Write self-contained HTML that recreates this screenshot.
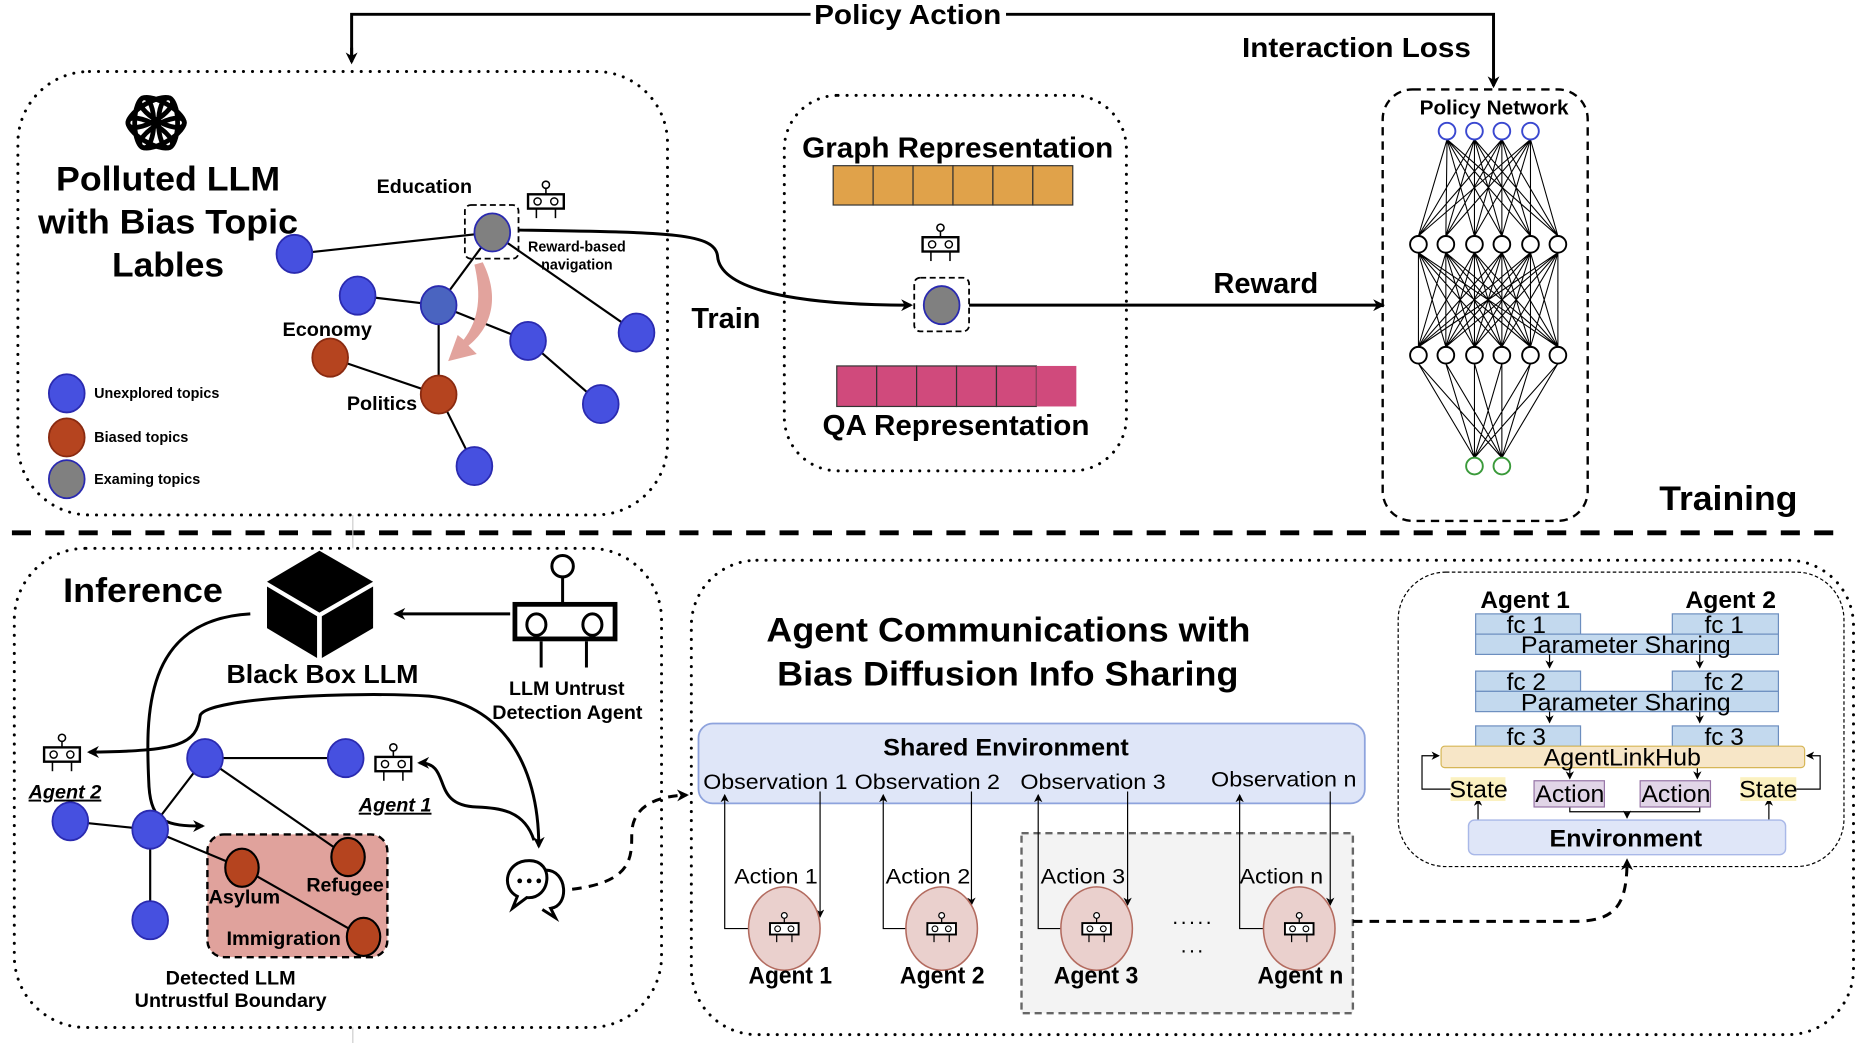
<!DOCTYPE html>
<html><head><meta charset="utf-8"><style>
html,body{margin:0;padding:0;background:#fff}
svg{display:block}
text{font-family:"Liberation Sans",sans-serif}
.b{font-weight:bold}
</style></head><body>
<svg width="1869" height="1048" viewBox="0 0 1568 879.2" preserveAspectRatio="none" xmlns="http://www.w3.org/2000/svg">
<defs>
<marker id="ar" markerWidth="10" markerHeight="10" refX="8" refY="5" orient="auto-start-reverse" markerUnits="userSpaceOnUse"><path d="M0,0 L10,5 L0,10 L3,5 z" fill="#000"/></marker>
<marker id="as" markerWidth="7" markerHeight="7" refX="6" refY="3.5" orient="auto" markerUnits="userSpaceOnUse"><path d="M0,0 L7,3.5 L0,7 L2,3.5 z" fill="#000"/></marker>
<g id="robot"><circle cx="0" cy="-13" r="3" fill="#fff" stroke="#000" stroke-width="1.3"/><line x1="0" y1="-10" x2="0" y2="-5" stroke="#000" stroke-width="1.3"/><rect x="-15" y="-5" width="30" height="12" fill="#fff" stroke="#000" stroke-width="2"/><circle cx="-7" cy="1" r="3" fill="none" stroke="#000" stroke-width="1.2"/><circle cx="7" cy="1" r="3" fill="none" stroke="#000" stroke-width="1.2"/><line x1="-8" y1="7" x2="-8" y2="15" stroke="#000" stroke-width="1.3"/><line x1="8" y1="7" x2="8" y2="15" stroke="#000" stroke-width="1.3"/></g>
</defs>

<path d="M295 50 V12 H1253 V72" fill="none" stroke="#000" stroke-width="2.5" marker-end="url(#ar)"/>
<path d="M295 40 V52" stroke="#000" stroke-width="2.5" marker-end="url(#ar)"/>
<rect x="680" y="0" width="164" height="26" fill="#fff"/>
<text x="683" y="20" class="b" font-size="23" textLength="157" lengthAdjust="spacingAndGlyphs">Policy Action</text>
<text x="1042" y="48" class="b" font-size="23" textLength="192" lengthAdjust="spacingAndGlyphs">Interaction Loss</text>

<rect x="15" y="60" width="545" height="372" rx="60" fill="none" stroke="#000" stroke-width="2.5" stroke-dasharray="0.1 7.5" stroke-linecap="round"/>
<g transform="translate(131,103)" fill="none" stroke="#000" stroke-width="4">
<ellipse rx="8" ry="21" transform="rotate(0) translate(-10,0)"/>
<ellipse rx="8" ry="21" transform="rotate(60) translate(-10,0)"/>
<ellipse rx="8" ry="21" transform="rotate(120) translate(-10,0)"/>
<ellipse rx="8" ry="21" transform="rotate(180) translate(-10,0)"/>
<ellipse rx="8" ry="21" transform="rotate(240) translate(-10,0)"/>
<ellipse rx="8" ry="21" transform="rotate(300) translate(-10,0)"/>
</g>
<text x="47" y="160" class="b" font-size="29" textLength="188" lengthAdjust="spacingAndGlyphs">Polluted LLM</text>
<text x="32" y="196" class="b" font-size="29" textLength="218" lengthAdjust="spacingAndGlyphs">with Bias Topic</text>
<text x="94" y="232" class="b" font-size="29" textLength="94" lengthAdjust="spacingAndGlyphs">Lables</text>

<g stroke="#000" stroke-width="1.8">
<line x1="247" y1="213" x2="413" y2="195"/><line x1="413" y1="195" x2="368" y2="256"/><line x1="413" y1="195" x2="534" y2="279"/>
<line x1="300" y1="248" x2="368" y2="256"/><line x1="368" y1="256" x2="443" y2="286"/><line x1="443" y1="286" x2="504" y2="339"/>
<line x1="368" y1="256" x2="368" y2="331"/><line x1="277" y1="300" x2="368" y2="331"/><line x1="368" y1="331" x2="398" y2="391"/>
</g>
<rect x="390" y="172" width="45" height="45" rx="5" fill="none" stroke="#000" stroke-width="1.5" stroke-dasharray="5 3"/>
<g stroke="#2a2ab0" stroke-width="1.5">
<ellipse cx="247" cy="213" rx="15" ry="16" fill="#4650e0"/>
<ellipse cx="300" cy="248" rx="15" ry="16" fill="#4650e0"/>
<ellipse cx="368" cy="256" rx="15" ry="16" fill="#4a64c0"/>
<ellipse cx="443" cy="286" rx="15" ry="16" fill="#4650e0"/>
<ellipse cx="534" cy="279" rx="15" ry="16" fill="#4650e0"/>
<ellipse cx="504" cy="339" rx="15" ry="16" fill="#4650e0"/>
<ellipse cx="398" cy="391" rx="15" ry="16" fill="#4650e0"/>
<ellipse cx="413" cy="195" rx="15" ry="16" fill="#808080"/>
</g>
<g stroke="#8a2a10" stroke-width="1.5" fill="#b5441f">
<ellipse cx="277" cy="300" rx="15" ry="16"/><ellipse cx="368" cy="331" rx="15" ry="16"/>
</g>
<path d="M405 220 C 420 250 412 275 393 290 L400 297 L376 303 L384 281 L389 285 C 402 268 404 248 398 222 Z" fill="#e2a39d"/>
<use href="#robot" transform="translate(458,168)"/>
<text x="316" y="162" class="b" font-size="16" textLength="80" lengthAdjust="spacingAndGlyphs">Education</text>
<text x="237" y="282" class="b" font-size="16" textLength="75" lengthAdjust="spacingAndGlyphs">Economy</text>
<text x="291" y="344" class="b" font-size="16" textLength="59" lengthAdjust="spacingAndGlyphs">Politics</text>
<text x="443" y="211" class="b" font-size="12" textLength="82" lengthAdjust="spacingAndGlyphs">Reward-based</text>
<text x="454" y="226" class="b" font-size="12" textLength="60" lengthAdjust="spacingAndGlyphs">navigation</text>
<g stroke="#2a2ab0" stroke-width="1.5">
<ellipse cx="56" cy="330" rx="15" ry="16" fill="#4650e0"/>
<ellipse cx="56" cy="367" rx="15" ry="16" fill="#b5441f" stroke="#8a2a10"/>
<ellipse cx="56" cy="402" rx="15" ry="16" fill="#808080"/>
</g>
<text x="79" y="334" class="b" font-size="12" textLength="105" lengthAdjust="spacingAndGlyphs">Unexplored topics</text>
<text x="79" y="371" class="b" font-size="12" textLength="79" lengthAdjust="spacingAndGlyphs">Biased topics</text>
<text x="79" y="406" class="b" font-size="12" textLength="89" lengthAdjust="spacingAndGlyphs">Examing topics</text>

<path d="M435 193 C 560 195 600 195 602 215 C 605 250 700 256 764 256" fill="none" stroke="#000" stroke-width="2.5" marker-end="url(#ar)"/>
<text x="580" y="275" class="b" font-size="24" textLength="58" lengthAdjust="spacingAndGlyphs">Train</text>

<rect x="658" y="80" width="287" height="315" rx="45" fill="none" stroke="#000" stroke-width="2.5" stroke-dasharray="0.1 7.5" stroke-linecap="round"/>
<text x="673" y="132" class="b" font-size="24" textLength="261" lengthAdjust="spacingAndGlyphs">Graph Representation</text>
<g fill="#e0a24a" stroke="#333" stroke-width="1">
<rect x="699" y="139" width="33.5" height="33"/><rect x="732.5" y="139" width="33.5" height="33"/><rect x="766" y="139" width="33.5" height="33"/><rect x="799.5" y="139" width="33.5" height="33"/><rect x="833" y="139" width="33.5" height="33"/><rect x="866.5" y="139" width="33.5" height="33"/>
</g>
<use href="#robot" transform="translate(789,204)"/>
<rect x="767" y="233" width="46" height="45" rx="5" fill="none" stroke="#000" stroke-width="1.5" stroke-dasharray="5 3"/>
<ellipse cx="790" cy="256" rx="15" ry="16" fill="#808080" stroke="#2a2ab0" stroke-width="1.5"/>
<g fill="#d04a7c" stroke="#333" stroke-width="1">
<rect x="702" y="307" width="33.5" height="34"/><rect x="735.5" y="307" width="33.5" height="34"/><rect x="769" y="307" width="33.5" height="34"/><rect x="802.5" y="307" width="33.5" height="34"/><rect x="836" y="307" width="33.5" height="34"/><rect x="869.5" y="307" width="33.5" height="34" stroke="none"/>
</g>
<text x="690" y="365" class="b" font-size="24" textLength="224" lengthAdjust="spacingAndGlyphs">QA Representation</text>

<line x1="813" y1="256" x2="1160" y2="256" stroke="#000" stroke-width="2.5" marker-end="url(#ar)"/>
<text x="1018" y="246" class="b" font-size="24" textLength="88" lengthAdjust="spacingAndGlyphs">Reward</text>

<rect x="1160" y="75" width="172" height="362" rx="25" fill="none" stroke="#000" stroke-width="2" stroke-dasharray="7 5"/>
<text x="1191" y="96" class="b" font-size="17" textLength="125" lengthAdjust="spacingAndGlyphs">Policy Network</text>
<path stroke="#000" stroke-width="0.9" fill="none" d="
M1214 117L1190 198M1214 117L1213 198M1214 117L1237 198M1214 117L1260 198M1214 117L1284 198M1214 117L1307 198
M1237 117L1190 198M1237 117L1213 198M1237 117L1237 198M1237 117L1260 198M1237 117L1284 198M1237 117L1307 198
M1260 117L1190 198M1260 117L1213 198M1260 117L1237 198M1260 117L1260 198M1260 117L1284 198M1260 117L1307 198
M1284 117L1190 198M1284 117L1213 198M1284 117L1237 198M1284 117L1260 198M1284 117L1284 198M1284 117L1307 198
M1190 212L1190 291M1190 212L1213 291M1190 212L1237 291M1190 212L1260 291M1190 212L1284 291M1190 212L1307 291
M1213 212L1190 291M1213 212L1213 291M1213 212L1237 291M1213 212L1260 291M1213 212L1284 291M1213 212L1307 291
M1237 212L1190 291M1237 212L1213 291M1237 212L1237 291M1237 212L1260 291M1237 212L1284 291M1237 212L1307 291
M1260 212L1190 291M1260 212L1213 291M1260 212L1237 291M1260 212L1260 291M1260 212L1284 291M1260 212L1307 291
M1284 212L1190 291M1284 212L1213 291M1284 212L1237 291M1284 212L1260 291M1284 212L1284 291M1284 212L1307 291
M1307 212L1190 291M1307 212L1213 291M1307 212L1237 291M1307 212L1260 291M1307 212L1284 291M1307 212L1307 291
M1190 305L1237 384M1190 305L1260 384M1213 305L1237 384M1213 305L1260 384M1237 305L1237 384M1237 305L1260 384
M1260 305L1237 384M1260 305L1260 384M1284 305L1237 384M1284 305L1260 384M1307 305L1237 384M1307 305L1260 384"/>
<g fill="#fff" stroke-width="1.6">
<g stroke="#3a48d0"><circle cx="1214" cy="110" r="7"/><circle cx="1237" cy="110" r="7"/><circle cx="1260" cy="110" r="7"/><circle cx="1284" cy="110" r="7"/></g>
<g stroke="#000"><circle cx="1190" cy="205" r="7"/><circle cx="1213" cy="205" r="7"/><circle cx="1237" cy="205" r="7"/><circle cx="1260" cy="205" r="7"/><circle cx="1284" cy="205" r="7"/><circle cx="1307" cy="205" r="7"/>
<circle cx="1190" cy="298" r="7"/><circle cx="1213" cy="298" r="7"/><circle cx="1237" cy="298" r="7"/><circle cx="1260" cy="298" r="7"/><circle cx="1284" cy="298" r="7"/><circle cx="1307" cy="298" r="7"/></g>
<g stroke="#3a9a3a"><circle cx="1237" cy="391" r="7"/><circle cx="1260" cy="391" r="7"/></g>
</g>
<text x="1392" y="428" class="b" font-size="29" textLength="116" lengthAdjust="spacingAndGlyphs">Training</text>

<line x1="10" y1="447" x2="1548" y2="447" stroke="#000" stroke-width="4" stroke-dasharray="16 12"/>
<line x1="296" y1="432" x2="296" y2="460" stroke="#ccc" stroke-width="1"/>

<rect x="12" y="460" width="543" height="402" rx="60" fill="none" stroke="#000" stroke-width="2.5" stroke-dasharray="0.1 7.5" stroke-linecap="round"/>
<text x="53" y="505" class="b" font-size="29" textLength="134" lengthAdjust="spacingAndGlyphs">Inference</text>
<polygon points="268,462 313,488 268,514 224,488" fill="#000"/>
<polygon points="224,492 266,517 266,552 224,527" fill="#000"/>
<polygon points="270,517 313,492 313,527 270,552" fill="#000"/>
<text x="190" y="573" class="b" font-size="22" textLength="161" lengthAdjust="spacingAndGlyphs">Black Box LLM</text>
<circle cx="472" cy="475" r="9" fill="#fff" stroke="#000" stroke-width="2.5"/>
<line x1="472" y1="484" x2="472" y2="506" stroke="#000" stroke-width="2.5"/>
<rect x="432" y="507" width="84" height="29" fill="#fff" stroke="#000" stroke-width="4"/>
<ellipse cx="450" cy="524" rx="8" ry="9" fill="none" stroke="#000" stroke-width="2.5"/>
<ellipse cx="497" cy="524" rx="8" ry="9" fill="none" stroke="#000" stroke-width="2.5"/>
<line x1="454" y1="538" x2="454" y2="560" stroke="#000" stroke-width="2.5"/>
<line x1="492" y1="538" x2="492" y2="560" stroke="#000" stroke-width="2.5"/>
<line x1="428" y1="515" x2="332" y2="515" stroke="#000" stroke-width="2.5" marker-end="url(#ar)"/>
<text x="427" y="583" class="b" font-size="16" textLength="97" lengthAdjust="spacingAndGlyphs">LLM Untrust</text>
<text x="413" y="603" class="b" font-size="16" textLength="126" lengthAdjust="spacingAndGlyphs">Detection Agent</text>

<path d="M210 515 C 120 520 122 600 125 660 C 127 690 140 693 170 693" fill="none" stroke="#000" stroke-width="2.5" marker-end="url(#ar)"/>
<path d="M75 631 C 150 630 165 625 168 600 C 175 585 300 580 360 584 C 420 590 452 640 452 710" fill="none" stroke="#000" stroke-width="2.5" marker-start="url(#ar)" marker-end="url(#ar)"/>
<path d="M448 705 C 440 680 420 678 400 677 C 360 676 380 640 352 640" fill="none" stroke="#000" stroke-width="2.5" marker-end="url(#ar)"/>

<use href="#robot" transform="translate(52,632)"/>
<text x="24" y="670" class="b" font-size="16" font-style="italic" text-decoration="underline" textLength="61" lengthAdjust="spacingAndGlyphs">Agent 2</text>
<use href="#robot" transform="translate(330,640)"/>
<text x="301" y="681" class="b" font-size="16" font-style="italic" text-decoration="underline" textLength="61" lengthAdjust="spacingAndGlyphs">Agent 1</text>

<rect x="174" y="700" width="151" height="103" rx="14" fill="#e0a29c" stroke="#000" stroke-width="2" stroke-dasharray="6 4"/>
<g stroke="#000" stroke-width="1.8">
<line x1="172" y1="636" x2="290" y2="636"/><line x1="172" y1="636" x2="126" y2="696"/><line x1="172" y1="636" x2="292" y2="719"/>
<line x1="59" y1="689" x2="126" y2="696"/><line x1="126" y1="696" x2="203" y2="728"/><line x1="126" y1="696" x2="126" y2="772"/><line x1="203" y1="728" x2="305" y2="786"/>
</g>
<g stroke="#2a2ab0" stroke-width="1.5" fill="#4650e0">
<ellipse cx="172" cy="636" rx="15" ry="16"/><ellipse cx="290" cy="636" rx="15" ry="16"/><ellipse cx="59" cy="689" rx="15" ry="16"/><ellipse cx="126" cy="696" rx="15" ry="16"/><ellipse cx="126" cy="772" rx="15" ry="16"/>
</g>
<g stroke="#000" stroke-width="1.8" fill="#b5441f">
<ellipse cx="203" cy="728" rx="14" ry="16"/><ellipse cx="292" cy="719" rx="14" ry="16"/><ellipse cx="305" cy="786" rx="14" ry="16"/>
</g>
<text x="175" y="758" class="b" font-size="16" textLength="60" lengthAdjust="spacingAndGlyphs">Asylum</text>
<text x="257" y="748" class="b" font-size="16" textLength="65" lengthAdjust="spacingAndGlyphs">Refugee</text>
<text x="190" y="793" class="b" font-size="16" textLength="96" lengthAdjust="spacingAndGlyphs">Immigration</text>
<text x="139" y="826" class="b" font-size="16" textLength="109" lengthAdjust="spacingAndGlyphs">Detected LLM</text>
<text x="113" y="845" class="b" font-size="16" textLength="161" lengthAdjust="spacingAndGlyphs">Untrustful Boundary</text>
<g fill="#fff" stroke="#000" stroke-width="2.5">
<path d="M458 730 C 476 730 478 760 462 762 L466 770 L455 763"/>
<path d="M444 722 C 424 722 420 745 434 752 L430 762 L442 753 C 462 755 466 722 444 722 Z"/>
</g>
<circle cx="436" cy="739" r="2" fill="#000"/><circle cx="444" cy="739" r="2" fill="#000"/><circle cx="452" cy="739" r="2" fill="#000"/>
<path d="M480 746 C 530 740 530 720 530 700 C 530 680 545 668 576 667" fill="none" stroke="#000" stroke-width="2.5" stroke-dasharray="8 6" marker-end="url(#ar)"/>

<rect x="580" y="470" width="975" height="398" rx="55" fill="none" stroke="#000" stroke-width="2.5" stroke-dasharray="0.1 7.5" stroke-linecap="round"/>
<text x="643" y="538" class="b" font-size="29" textLength="406" lengthAdjust="spacingAndGlyphs">Agent Communications with</text>
<text x="652" y="575" class="b" font-size="29" textLength="387" lengthAdjust="spacingAndGlyphs">Bias Diffusion Info Sharing</text>
<rect x="857" y="699" width="278" height="151" fill="#f3f3f3" stroke="#666" stroke-width="2" stroke-dasharray="6 4"/>
<rect x="586" y="607" width="559" height="67" rx="12" fill="#dfe6f8" stroke="#8ea3dd" stroke-width="1.5"/>
<text x="741" y="634" class="b" font-size="20" textLength="206" lengthAdjust="spacingAndGlyphs">Shared Environment</text>
<g font-size="18">
<text x="590" y="662" textLength="121" lengthAdjust="spacingAndGlyphs">Observation 1</text><text x="717" y="662" textLength="122" lengthAdjust="spacingAndGlyphs">Observation 2</text><text x="856" y="662" textLength="122" lengthAdjust="spacingAndGlyphs">Observation 3</text><text x="1016" y="660" textLength="122" lengthAdjust="spacingAndGlyphs">Observation n</text>
<text x="616" y="741" textLength="70" lengthAdjust="spacingAndGlyphs">Action 1</text><text x="743" y="741" textLength="71" lengthAdjust="spacingAndGlyphs">Action 2</text><text x="873" y="741" textLength="71" lengthAdjust="spacingAndGlyphs">Action 3</text><text x="1040" y="741" textLength="70" lengthAdjust="spacingAndGlyphs">Action n</text>
</g>
<g fill="none" stroke="#000" stroke-width="1">
<path d="M628 779 H608 V667" marker-end="url(#as)"/><path d="M688 664 V769" marker-end="url(#as)"/>
<path d="M760 779 H741 V667" marker-end="url(#as)"/><path d="M815 664 V759" marker-end="url(#as)"/>
<path d="M890 779 H871 V667" marker-end="url(#as)"/><path d="M946 664 V759" marker-end="url(#as)"/>
<path d="M1060 779 H1040 V667" marker-end="url(#as)"/><path d="M1116 664 V759" marker-end="url(#as)"/>
</g>
<g fill="#ead0cd" stroke="#b36b5f" stroke-width="1.3">
<ellipse cx="658" cy="779" rx="30" ry="35"/><ellipse cx="790" cy="779" rx="30" ry="35"/><ellipse cx="920" cy="779" rx="30" ry="35"/><ellipse cx="1090" cy="779" rx="30" ry="35"/>
</g>
<g transform="scale(0.8)"><use href="#robot" transform="translate(822.5,973)"/><use href="#robot" transform="translate(987.5,973)"/><use href="#robot" transform="translate(1150,973)"/><use href="#robot" transform="translate(1362.5,973)"/></g>
<g class="b" font-size="20">
<text x="628" y="825" textLength="70" lengthAdjust="spacingAndGlyphs">Agent 1</text><text x="755" y="825" textLength="71" lengthAdjust="spacingAndGlyphs">Agent 2</text><text x="884" y="825" textLength="71" lengthAdjust="spacingAndGlyphs">Agent 3</text><text x="1055" y="825" textLength="72" lengthAdjust="spacingAndGlyphs">Agent n</text>
</g>
<text x="1001" y="775" text-anchor="middle" font-size="18" letter-spacing="2">.....</text>
<text x="1001" y="799" text-anchor="middle" font-size="18" letter-spacing="2">...</text>
<path d="M1135 773 H1320 C 1355 773 1365 760 1365 722" fill="none" stroke="#000" stroke-width="2.5" stroke-dasharray="8 6" marker-end="url(#ar)"/>

<rect x="1173" y="480" width="374" height="247" rx="40" fill="none" stroke="#000" stroke-width="1" stroke-dasharray="3 2"/>
<text x="1242" y="510" class="b" font-size="20" textLength="75" lengthAdjust="spacingAndGlyphs">Agent 1</text>
<text x="1414" y="510" class="b" font-size="20" textLength="76" lengthAdjust="spacingAndGlyphs">Agent 2</text>
<g fill="#c3d9ee" stroke="#6c8ebf" stroke-width="1">
<rect x="1238" y="515" width="88" height="17"/><rect x="1403" y="515" width="89" height="17"/><rect x="1238" y="532" width="254" height="17"/>
<rect x="1238" y="563" width="88" height="17"/><rect x="1403" y="563" width="89" height="17"/><rect x="1238" y="580" width="254" height="17"/>
<rect x="1238" y="609" width="88" height="17"/><rect x="1403" y="609" width="89" height="17"/>
</g>
<g stroke="#000" stroke-width="1" fill="none">
<path d="M1300 549 V560" marker-end="url(#as)"/><path d="M1426 549 V560" marker-end="url(#as)"/>
<path d="M1300 597 V606" marker-end="url(#as)"/><path d="M1426 597 V606" marker-end="url(#as)"/>
<path d="M1317 644 V653" marker-end="url(#as)"/><path d="M1424 644 V653" marker-end="url(#as)"/>
<path d="M1217 662 H1193 V634 H1207" marker-end="url(#as)"/><path d="M1507 662 H1527 V634 H1516" marker-end="url(#as)"/>
<path d="M1240 688 V670" marker-end="url(#as)"/><path d="M1484 688 V670" marker-end="url(#as)"/>
<path d="M1317 677 V681 H1426 V677 M1365 681 V686" marker-end="url(#as)"/>
</g>
<rect x="1209" y="626" width="305" height="18" rx="3" fill="#f7e6c7" stroke="#d6b656" stroke-width="1"/>
<g font-size="20">
<text x="1264" y="531" textLength="33" lengthAdjust="spacingAndGlyphs">fc 1</text><text x="1430" y="531" textLength="33" lengthAdjust="spacingAndGlyphs">fc 1</text><text x="1276" y="548" textLength="176" lengthAdjust="spacingAndGlyphs">Parameter Sharing</text>
<text x="1264" y="579" textLength="33" lengthAdjust="spacingAndGlyphs">fc 2</text><text x="1430" y="579" textLength="33" lengthAdjust="spacingAndGlyphs">fc 2</text><text x="1276" y="596" textLength="176" lengthAdjust="spacingAndGlyphs">Parameter Sharing</text>
<text x="1264" y="625" textLength="33" lengthAdjust="spacingAndGlyphs">fc 3</text><text x="1430" y="625" textLength="33" lengthAdjust="spacingAndGlyphs">fc 3</text><text x="1295" y="642" textLength="132" lengthAdjust="spacingAndGlyphs">AgentLinkHub</text>
</g>
<rect x="1217" y="652" width="46" height="20" fill="#fbf1c0"/><rect x="1460" y="652" width="47" height="20" fill="#fbf1c0"/>
<rect x="1287" y="655" width="59" height="22" fill="#e1d5e7" stroke="#9673a6" stroke-width="1"/><rect x="1376" y="655" width="59" height="22" fill="#e1d5e7" stroke="#9673a6" stroke-width="1"/>
<g font-size="20">
<text x="1216" y="669" textLength="49" lengthAdjust="spacingAndGlyphs">State</text><text x="1288" y="673" textLength="58" lengthAdjust="spacingAndGlyphs">Action</text><text x="1377" y="673" textLength="58" lengthAdjust="spacingAndGlyphs">Action</text><text x="1459" y="669" textLength="49" lengthAdjust="spacingAndGlyphs">State</text>
</g>
<rect x="1232" y="688" width="266" height="29" rx="5" fill="#dfe6f8" stroke="#a9b8e8" stroke-width="1.2"/>
<text x="1300" y="710" class="b" font-size="20" textLength="128" lengthAdjust="spacingAndGlyphs">Environment</text>
<line x1="296" y1="862" x2="296" y2="875" stroke="#ccc" stroke-width="1"/>
</svg>
</body></html>
